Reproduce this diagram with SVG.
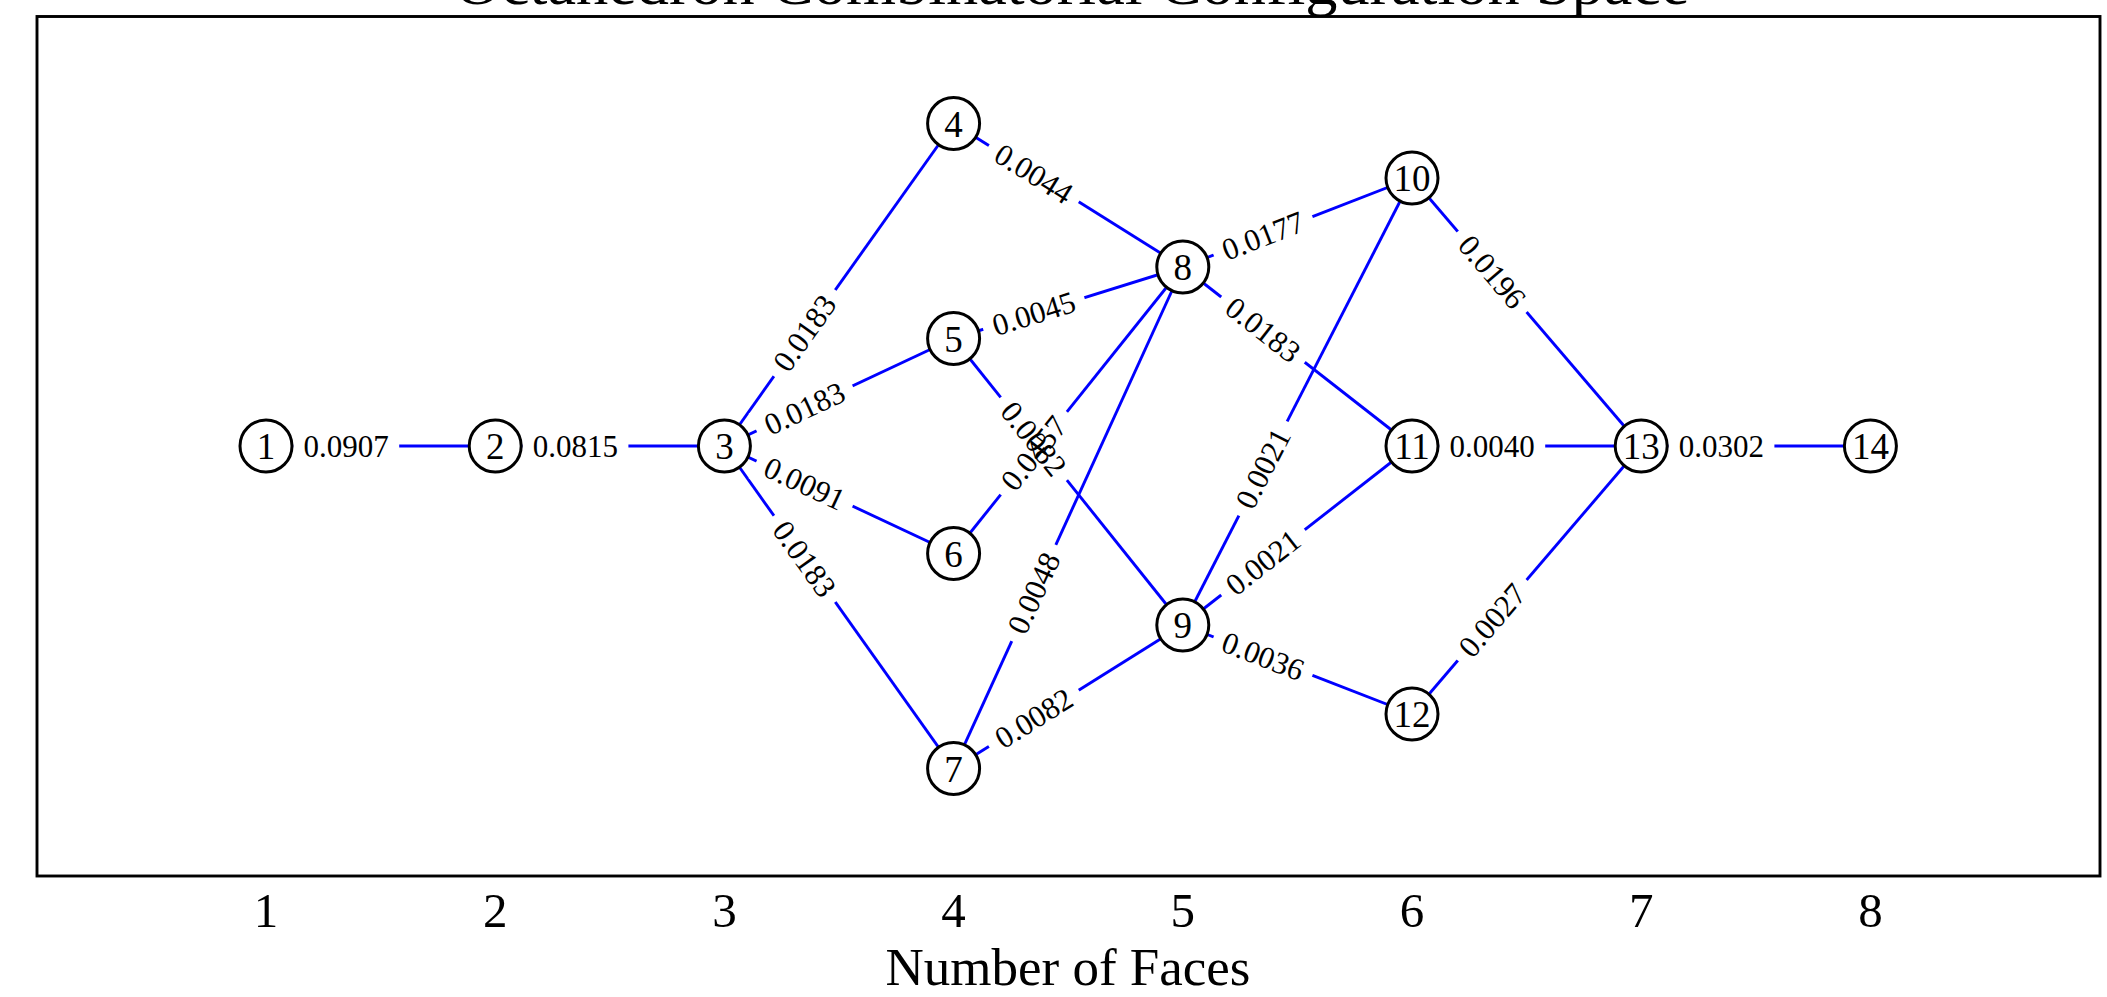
<svg xmlns="http://www.w3.org/2000/svg" width="2107" height="997" viewBox="0 0 2107 997">
<style>
.edge{stroke:#0000ff;stroke-width:2.9;fill:none}
.node circle{fill:#ffffff;stroke:#000000;stroke-width:3}
.node text{font-family:"Liberation Serif","DejaVu Serif",serif;font-size:37px;text-anchor:middle;fill:#000}
.lbox{fill:#ffffff;stroke:none}
.ltxt{font-family:"Liberation Serif","DejaVu Serif",serif;font-size:31px;text-anchor:middle;fill:#000}
.axis{font-family:"Liberation Serif","DejaVu Serif",serif;fill:#000;text-anchor:middle}
</style>
<rect width="2107" height="997" fill="#ffffff"/>
<text class="axis" x="1072" y="4" font-size="62" textLength="1235" lengthAdjust="spacingAndGlyphs">Octahedron Combinatorial Configuration Space</text>
<rect x="37" y="16.5" width="2063" height="859.5" fill="none" stroke="#000" stroke-width="2.9"/>
<g id="ticks" class="axis" font-size="49">
<text x="266" y="927">1</text>
<text x="495.2" y="927">2</text>
<text x="724.4" y="927">3</text>
<text x="953.6" y="927">4</text>
<text x="1182.8" y="927">5</text>
<text x="1412" y="927">6</text>
<text x="1641.2" y="927">7</text>
<text x="1870.4" y="927">8</text>
</g>
<text class="axis" x="1068" y="985" font-size="53">Number of Faces</text>
<g id="connectors">
<line class="edge" x1="266" y1="446" x2="495.2" y2="446"/>
<line class="edge" x1="495.2" y1="446" x2="724.4" y2="446"/>
<line class="edge" x1="724.4" y1="446" x2="953.6" y2="123.5"/>
<line class="edge" x1="724.4" y1="446" x2="953.6" y2="338.5"/>
<line class="edge" x1="724.4" y1="446" x2="953.6" y2="553.5"/>
<line class="edge" x1="724.4" y1="446" x2="953.6" y2="768.5"/>
<line class="edge" x1="953.6" y1="123.5" x2="1182.8" y2="267"/>
<line class="edge" x1="953.6" y1="338.5" x2="1182.8" y2="267"/>
<line class="edge" x1="953.6" y1="338.5" x2="1182.8" y2="625"/>
<line class="edge" x1="953.6" y1="553.5" x2="1182.8" y2="267"/>
<line class="edge" x1="953.6" y1="768.5" x2="1182.8" y2="267"/>
<line class="edge" x1="953.6" y1="768.5" x2="1182.8" y2="625"/>
<line class="edge" x1="1182.8" y1="267" x2="1412" y2="178"/>
<line class="edge" x1="1182.8" y1="267" x2="1412" y2="446"/>
<line class="edge" x1="1182.8" y1="625" x2="1412" y2="178"/>
<line class="edge" x1="1182.8" y1="625" x2="1412" y2="446"/>
<line class="edge" x1="1182.8" y1="625" x2="1412" y2="714"/>
<line class="edge" x1="1412" y1="178" x2="1641.2" y2="446"/>
<line class="edge" x1="1412" y1="446" x2="1641.2" y2="446"/>
<line class="edge" x1="1412" y1="714" x2="1641.2" y2="446"/>
<line class="edge" x1="1641.2" y1="446" x2="1870.4" y2="446"/>
</g>
<defs>
<rect id="lb" class="lbox" x="-53" y="-19" width="106" height="38"/>
</defs>
<g id="label-boxes">
<use href="#lb" transform="translate(346.2,446)"/>
<use href="#lb" transform="translate(575.4,446)"/>
<use href="#lb" transform="translate(804.6,333.1) rotate(-54.6)"/>
<use href="#lb" transform="translate(804.6,408.4) rotate(-25.1)"/>
<use href="#lb" transform="translate(804.6,483.6) rotate(25.1)"/>
<use href="#lb" transform="translate(804.6,558.9) rotate(54.6)"/>
<use href="#lb" transform="translate(1033.8,173.7) rotate(32.05)"/>
<use href="#lb" transform="translate(1033.8,313.5) rotate(-17.3)"/>
<use href="#lb" transform="translate(1033.8,438.8) rotate(51.3)"/>
<use href="#lb" transform="translate(1033.8,453.2) rotate(-51.3)"/>
<use href="#lb" transform="translate(1033.8,593) rotate(-65.4)"/>
<use href="#lb" transform="translate(1033.8,718.3) rotate(-32.05)"/>
<use href="#lb" transform="translate(1263,235.8) rotate(-21.2)"/>
<use href="#lb" transform="translate(1263,329.7) rotate(38)"/>
<use href="#lb" transform="translate(1263,468.5) rotate(-62.9)"/>
<use href="#lb" transform="translate(1263,562.4) rotate(-38)"/>
<use href="#lb" transform="translate(1263,656.2) rotate(21.2)"/>
<use href="#lb" transform="translate(1492.2,271.8) rotate(49.5)"/>
<use href="#lb" transform="translate(1492.2,446)"/>
<use href="#lb" transform="translate(1492.2,620.2) rotate(-49.5)"/>
<use href="#lb" transform="translate(1721.4,446)"/>
</g>
<g id="label-texts" class="ltxt">
<text transform="translate(346.2,446)" y="10.5">0.0907</text>
<text transform="translate(575.4,446)" y="10.5">0.0815</text>
<text transform="translate(804.6,333.1) rotate(-54.6)" y="10.5">0.0183</text>
<text transform="translate(804.6,408.4) rotate(-25.1)" y="10.5">0.0183</text>
<text transform="translate(804.6,483.6) rotate(25.1)" y="10.5">0.0091</text>
<text transform="translate(804.6,558.9) rotate(54.6)" y="10.5">0.0183</text>
<text transform="translate(1033.8,173.7) rotate(32.05)" y="10.5">0.0044</text>
<text transform="translate(1033.8,313.5) rotate(-17.3)" y="10.5">0.0045</text>
<text transform="translate(1033.8,438.8) rotate(51.3)" y="10.5">0.0082</text>
<text transform="translate(1033.8,453.2) rotate(-51.3)" y="10.5">0.0457</text>
<text transform="translate(1033.8,593) rotate(-65.4)" y="10.5">0.0048</text>
<text transform="translate(1033.8,718.3) rotate(-32.05)" y="10.5">0.0082</text>
<text transform="translate(1263,235.8) rotate(-21.2)" y="10.5">0.0177</text>
<text transform="translate(1263,329.7) rotate(38)" y="10.5">0.0183</text>
<text transform="translate(1263,468.5) rotate(-62.9)" y="10.5">0.0021</text>
<text transform="translate(1263,562.4) rotate(-38)" y="10.5">0.0021</text>
<text transform="translate(1263,656.2) rotate(21.2)" y="10.5">0.0036</text>
<text transform="translate(1492.2,271.8) rotate(49.5)" y="10.5">0.0196</text>
<text transform="translate(1492.2,446)" y="10.5">0.0040</text>
<text transform="translate(1492.2,620.2) rotate(-49.5)" y="10.5">0.0027</text>
<text transform="translate(1721.4,446)" y="10.5">0.0302</text>
</g>
<g id="n1" class="node"><circle cx="266" cy="446" r="26"/><text x="266" y="459">1</text></g>
<g id="n2" class="node"><circle cx="495.2" cy="446" r="26"/><text x="495.2" y="459">2</text></g>
<g id="n3" class="node"><circle cx="724.4" cy="446" r="26"/><text x="724.4" y="459">3</text></g>
<g id="n4" class="node"><circle cx="953.6" cy="123.5" r="26"/><text x="953.6" y="136.5">4</text></g>
<g id="n5" class="node"><circle cx="953.6" cy="338.5" r="26"/><text x="953.6" y="351.5">5</text></g>
<g id="n6" class="node"><circle cx="953.6" cy="553.5" r="26"/><text x="953.6" y="566.5">6</text></g>
<g id="n7" class="node"><circle cx="953.6" cy="768.5" r="26"/><text x="953.6" y="781.5">7</text></g>
<g id="n8" class="node"><circle cx="1182.8" cy="267" r="26"/><text x="1182.8" y="280">8</text></g>
<g id="n9" class="node"><circle cx="1182.8" cy="625" r="26"/><text x="1182.8" y="638">9</text></g>
<g id="n10" class="node"><circle cx="1412" cy="178" r="26"/><text x="1412" y="191">10</text></g>
<g id="n11" class="node"><circle cx="1412" cy="446" r="26"/><text x="1412" y="459">11</text></g>
<g id="n12" class="node"><circle cx="1412" cy="714" r="26"/><text x="1412" y="727">12</text></g>
<g id="n13" class="node"><circle cx="1641.2" cy="446" r="26"/><text x="1641.2" y="459">13</text></g>
<g id="n14" class="node"><circle cx="1870.4" cy="446" r="26"/><text x="1870.4" y="459">14</text></g>
</svg>
